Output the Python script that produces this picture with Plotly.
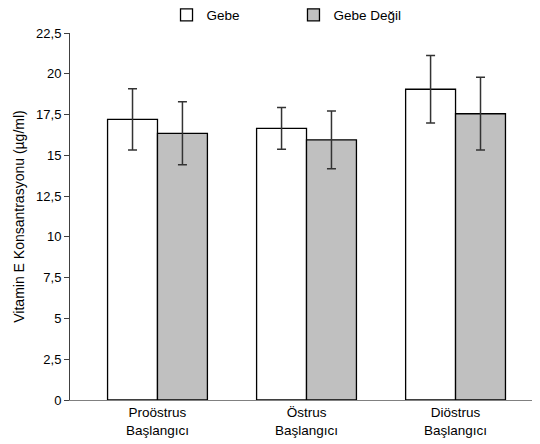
import plotly.graph_objects as go

categories = ["Proöstrus<br>Başlangıcı", "Östrus<br>Başlangıcı", "Diöstrus<br>Başlangıcı"]
gebe = [17.2, 16.65, 19.05]
gebe_err = [1.88, 1.28, 2.07]
degil = [16.35, 15.95, 17.55]
degil_err = [1.93, 1.77, 2.23]
ytick_vals = [0, 2.5, 5, 7.5, 10, 12.5, 15, 17.5, 20, 22.5]
ytick_text = ["0", "2,5", "5", "7,5", "10", "12,5", "15", "17,5", "20", "22,5"]

font = "Liberation Sans, Arial, sans-serif"
x = list(range(len(categories)))

fig = go.Figure()
fig.add_trace(go.Bar(
    x=x, y=gebe, name="Gebe", legend="legend",
    marker=dict(color="white", line=dict(color="black", width=1.3)),
    error_y=dict(type="data", array=gebe_err, color="#333333", thickness=1.5, width=4.5),
))
fig.add_trace(go.Bar(
    x=x, y=degil, name="Gebe Değil", legend="legend2",
    marker=dict(color="#c0c0c0", line=dict(color="black", width=1.3)),
    error_y=dict(type="data", array=degil_err, color="#333333", thickness=1.5, width=4.5),
))

leg_common = dict(orientation="h", yanchor="middle", y=1.049, xanchor="left",
                  font=dict(size=13.5, family=font, color="black"),
                  bgcolor="rgba(0,0,0,0)", borderwidth=0)

fig.update_layout(
    width=532, height=436,
    margin=dict(l=62, r=1, t=25, b=44, pad=0, autoexpand=False),
    paper_bgcolor="white", plot_bgcolor="white",
    barmode="group", bargap=0.33, bargroupgap=0,
    font=dict(family=font, size=13, color="black"),
    showlegend=True,
    legend=dict(x=0.2058, **leg_common),
    legend2=dict(x=0.4765, **leg_common),
    xaxis=dict(
        tickvals=x, ticktext=categories, range=[-0.587, 2.56],
        showline=True, linecolor="#808080", linewidth=1, ticks="",
        showgrid=False, zeroline=False, tickfont=dict(size=13.5),
    ),
    yaxis=dict(
        range=[0, 22.5], tickvals=ytick_vals, ticktext=ytick_text,
        showline=True, linecolor="#404040", linewidth=1,
        ticks="outside", ticklen=5, tickcolor="#404040",
        showgrid=False, zeroline=False, tickfont=dict(size=13),
        title=dict(text="Vitamin E Konsantrasyonu (µg/ml)", font=dict(size=14), standoff=8),
    ),
)

fig.write_html("out.html")
